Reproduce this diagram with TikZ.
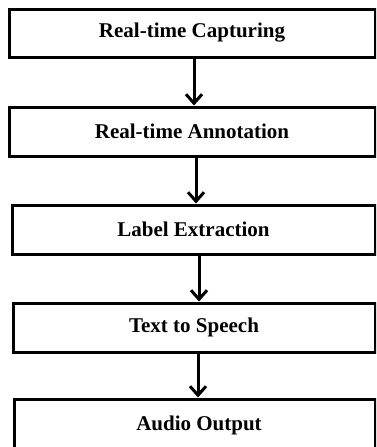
\documentclass[tikz,border=0pt]{standalone}
\usepackage{fontspec}
\setmainfont{Liberation Serif}
\usetikzlibrary{arrows.meta}
\begin{document}
\begin{tikzpicture}[x=1pt,y=-1pt,
  stagefont/.style={font=\fontsize{21}{23}\selectfont\bfseries},
  stagebox/.style={draw=black, line width=3pt, fill=white, inner sep=0pt, stagefont},
  flowarrow/.style={line width=3pt, -{Straight Barb[length=9pt,width=16pt,line width=3pt]}}]
\useasboundingbox (0,0) rectangle (376,447);
\clip (0,0) rectangle (376,447);
\node[stagebox, minimum width=366pt, minimum height=48pt] (b1) at (192,33) {Real-time Capturing};
\node[stagebox, minimum width=366pt, minimum height=49pt] (b2) at (192,131.5) {Real-time Annotation};
\node[stagebox, minimum width=363pt, minimum height=49pt] (b3) at (193.5,229.5) {Label Extraction};
\node[stagebox, minimum width=362pt, minimum height=49pt] (b4) at (194,327.5) {Text to Speech};
\node[stagebox, minimum width=361pt, minimum height=58pt] (b5) at (194.5,428) {};
\node[stagefont] (t5) at (199,425) {Audio Output};
\draw[flowarrow] (b1.south -| 194,0) -- (b2.north -| 194,0);
\draw[flowarrow] (b2.south -| 196,0) -- (b3.north -| 196,0);
\draw[flowarrow] (b3.south -| 199,0) -- (b4.north -| 199,0);
\draw[flowarrow] (b4.south -| 198,0) -- (b5.north -| 198,0);
\end{tikzpicture}
\end{document}
